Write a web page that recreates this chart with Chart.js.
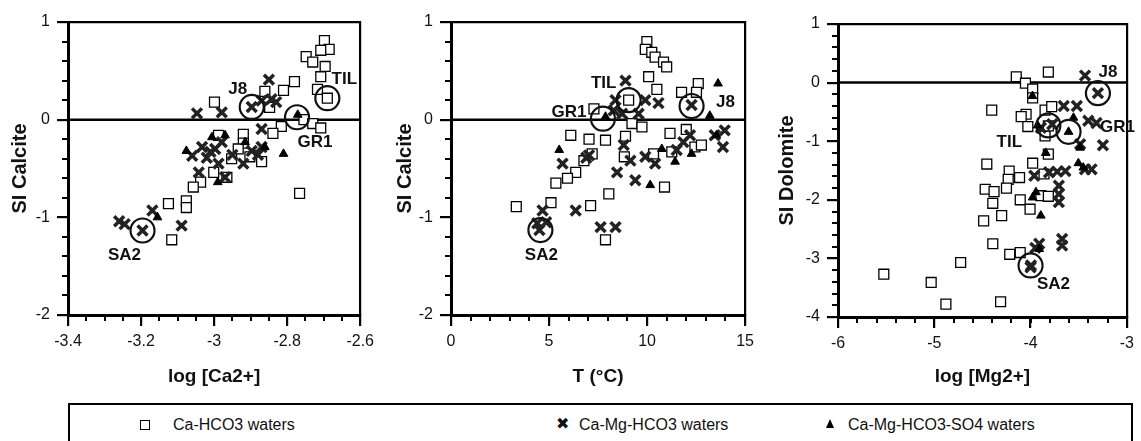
<!DOCTYPE html>
<html><head><meta charset="utf-8">
<script src="https://cdn.jsdelivr.net/npm/chart.js@4.4.0/dist/chart.umd.min.js"></script>
<style>
html,body{margin:0;padding:0;background:#fff;width:1141px;height:441px;overflow:hidden;font-family:"Liberation Sans",Arial,sans-serif;color:#111;}
canvas{position:absolute;top:0;}
#legendBox{position:absolute;left:68px;top:403px;width:1061px;height:60px;border:2px solid #000;}
.lt{position:absolute;top:414px;font-size:16px;line-height:22px;white-space:nowrap;}
.sq{position:absolute;top:420px;width:8px;height:8px;border:1.5px solid #000;background:#fff;}
.xm{position:absolute;top:413px;font-family:"DejaVu Sans";font-size:16px;line-height:22px;}
.tri{position:absolute;top:419px;width:0;height:0;border-left:4.5px solid transparent;border-right:4.5px solid transparent;border-bottom:9px solid #000;}
</style></head>
<body>
<canvas id="c1" width="380" height="400" style="left:0px"></canvas>
<canvas id="c2" width="380" height="400" style="left:380px"></canvas>
<canvas id="c3" width="381" height="400" style="left:760px"></canvas>
<div id="legendBox"></div>
<div class="sq" style="left:140px"></div><div class="lt" style="left:173px">Ca-HCO3 waters</div>
<div class="xm" style="left:556px">✖</div><div class="lt" style="left:579px">Ca-Mg-HCO3 waters</div>
<div class="tri" style="left:826px"></div><div class="lt" style="left:848px">Ca-Mg-HCO3-SO4 waters</div>
<script>
// ---------- tick labels ----------
const p1XTicks = [-3.4, -3.2, -3.0, -2.8, -2.6];
const p1YTicks = [1, 0, -1, -2];
const p2XTicks = [0, 5, 10, 15];
const p2YTicks = [1, 0, -1, -2];
const p3XTicks = [-6, -5, -4, -3];
const p3YTicks = [1, 0, -1, -2, -3, -4];

// ---------- axis titles ----------
const p1XTitle = 'log [Ca2+]';
const p2XTitle = 'T (°C)';
const p3XTitle = 'log [Mg2+]';
const p1YTitle = 'SI Calcite';
const p2YTitle = 'SI Calcite';
const p3YTitle = 'SI Dolomite';

// ---------- series names ----------
const seriesNames = ['Ca-HCO3 waters', 'Ca-Mg-HCO3 waters', 'Ca-Mg-HCO3-SO4 waters'];
const siteNames = ['J8', 'TIL', 'GR1', 'SA2'];

// ---------- panel 1: log[Ca2+] vs SI calcite ----------
const p1Square = [[-2.698,0.81],[-2.685,0.72],[-2.708,0.71],[-2.748,0.645],[-2.73,0.59],[-2.696,0.545],[-2.708,0.44],[-2.717,0.31],[-2.69,0.22],[-2.78,0.39],[-2.81,0.30],[-2.861,0.29],[-2.848,0.126],[-2.999,0.18],[-2.816,-0.07],[-2.839,-0.14],[-2.754,0.0],[-2.73,-0.04],[-2.708,-0.085],[-2.766,-0.755],[-2.92,-0.15],[-2.92,-0.24],[-2.988,-0.16],[-2.934,-0.30],[-2.952,-0.40],[-2.902,-0.38],[-2.87,-0.43],[-3.001,-0.54],[-2.965,-0.59],[-3.037,-0.64],[-3.057,-0.69],[-3.125,-0.86],[-3.076,-0.83],[-3.076,-0.90],[-3.116,-1.23]];
const p1Cross = [[-3.047,0.065],[-2.979,0.075],[-2.85,0.41],[-2.897,0.13],[-2.87,0.195],[-2.843,0.21],[-2.83,0.18],[-2.87,-0.095],[-3.033,-0.28],[-3.06,-0.37],[-3.02,-0.39],[-3.042,-0.54],[-2.988,-0.45],[-2.979,-0.23],[-2.97,-0.59],[-2.92,-0.45],[-2.897,-0.32],[-2.87,-0.28],[-3.169,-0.93],[-3.089,-1.085],[-3.245,-1.07],[-3.196,-1.135],[-2.997,-0.30],[-3.01,-0.33],[-2.95,-0.36],[-2.88,-0.36],[-3.26,-1.04]];
const p1Triangle = [[-3.076,-0.32],[-2.99,-0.64],[-2.81,-0.35],[-2.97,-0.16],[-3.155,-1.0],[-2.861,-0.28],[-2.771,0.05],[-3.006,-0.18],[-2.915,-0.23]];
const p1Circled = [[-2.897,0.13],[-2.69,0.22],[-2.773,0.025],[-3.196,-1.135]];

// ---------- panel 2: T vs SI calcite ----------
const p2Square = [[9.99,0.80],[9.91,0.72],[10.24,0.69],[10.41,0.64],[10.84,0.59],[11.0,0.54],[10.08,0.44],[10.5,0.31],[9.06,0.20],[7.29,0.11],[11.76,0.28],[12.61,0.37],[12.52,0.28],[6.11,-0.16],[7.04,-0.20],[7.88,-0.21],[8.9,-0.17],[9.23,-0.04],[9.74,-0.075],[8.84,-0.38],[10.33,-0.35],[11.17,-0.14],[12.0,-0.10],[12.44,-0.28],[12.77,-0.26],[11.26,-0.33],[7.2,-0.35],[6.78,-0.42],[6.36,-0.54],[5.94,-0.60],[5.35,-0.65],[5.1,-0.85],[3.33,-0.89],[7.12,-0.88],[8.05,-0.76],[10.89,-0.69],[7.88,-1.23]];
const p2Cross = [[8.9,0.40],[8.39,0.20],[8.73,0.06],[9.57,0.06],[9.91,0.20],[10.58,0.17],[12.27,0.15],[8.81,-0.26],[9.15,-0.42],[8.47,-0.54],[9.91,-0.38],[10.41,-0.45],[9.4,-0.62],[6.36,-0.93],[7.63,-1.10],[8.39,-1.10],[4.67,-0.93],[4.51,-1.13],[4.85,-1.05],[5.69,-0.45],[7.04,-0.365],[11.51,-0.31],[11.85,-0.23],[12.19,-0.16],[13.96,-0.11],[13.87,-0.28],[13.45,-0.16],[8.3,0.095],[6.9,-0.39],[4.4,-1.06]];
const p2Triangle = [[13.62,0.37],[13.2,0.04],[5.52,-0.31],[10.75,-0.30],[11.43,-0.43],[10.16,-0.67],[12.27,-0.35],[7.88,0.03],[13.54,-0.16]];
const p2Circled = [[12.27,0.14],[9.06,0.20],[7.75,0.01],[4.56,-1.13]];

// ---------- panel 3: log[Mg2+] vs SI dolomite ----------
const p3Square = [[-4.148,0.10],[-4.053,-0.01],[-3.815,0.18],[-3.978,-0.11],[-3.978,-0.26],[-4.403,-0.47],[-4.046,-0.54],[-4.097,-0.58],[-4.028,-0.75],[-3.849,-0.47],[-3.78,-0.41],[-3.849,-0.91],[-3.815,-1.22],[-3.978,-1.375],[-4.454,-1.39],[-4.222,-1.51],[-4.232,-1.65],[-4.114,-1.62],[-3.86,-1.56],[-4.471,-1.82],[-4.379,-1.86],[-4.25,-1.80],[-4.392,-2.06],[-4.107,-2.0],[-4.005,-2.16],[-4.487,-2.36],[-4.3,-2.27],[-4.392,-2.75],[-4.216,-2.93],[-4.107,-2.90],[-4.726,-3.07],[-5.524,-3.27],[-5.032,-3.41],[-4.879,-3.78],[-4.311,-3.74],[-3.893,-1.93],[-3.815,-1.94],[-3.815,-0.74]];
const p3Cross = [[-3.434,0.12],[-3.3,-0.18],[-3.655,-0.40],[-3.519,-0.40],[-3.315,-0.69],[-3.248,-1.07],[-3.485,-1.05],[-3.893,-0.77],[-3.774,-0.71],[-3.366,-1.48],[-3.434,-1.48],[-3.638,-1.51],[-3.723,-1.52],[-3.808,-1.53],[-3.961,-1.59],[-3.706,-1.76],[-3.706,-1.90],[-3.706,-2.04],[-3.672,-2.67],[-3.672,-2.78],[-3.91,-2.75],[-3.95,-2.82],[-3.995,-3.12],[-4.0,-3.15],[-3.4,-0.65]];
const p3Triangle = [[-3.98,-0.23],[-3.554,-0.60],[-3.605,-0.84],[-3.485,-1.11],[-3.842,-1.20],[-3.503,-1.375],[-3.452,-1.45],[-3.944,-1.87],[-3.978,-1.96],[-3.893,-2.27],[-3.91,-2.84],[-3.927,-0.73]];
const p3Circled = [[-3.30,-0.18],[-3.815,-0.73],[-3.605,-0.84],[-4.0,-3.12]];

// ---------- helpers ----------
const FONT = '"Liberation Sans", Arial, sans-serif';
const toPts = arr => arr.map(p => ({x: p[0], y: p[1]}));

// short minor tick marks between the labelled ticks, placed through the chart's own scales
const minorTicks = {
  id: 'minorTicks',
  afterDraw(chart, args, opts) {
    const ctx = chart.ctx;
    ctx.save();
    ctx.strokeStyle = '#000';
    ctx.lineWidth = 2;
    ['x', 'y'].forEach(id => {
      const s = chart.scales[id];
      const step = id === 'x' ? opts.xs : opts.ys;
      const n = Math.round((s.max - s.min) / step);
      for (let i = 0; i <= n; i++) {
        const p = Math.round(s.getPixelForValue(s.min + i * step));
        ctx.beginPath();
        if (id === 'x') { ctx.moveTo(p, s.top); ctx.lineTo(p, s.top + opts.len); }
        else { ctx.moveTo(s.right, p); ctx.lineTo(s.right - opts.len, p); }
        ctx.stroke();
      }
    });
    ctx.restore();
  }
};

const siteLabels = {
  id: 'siteLabels',
  afterDatasetsDraw(chart, args, opts) {
    const ctx = chart.ctx, xs = chart.scales.x, ys = chart.scales.y;
    ctx.save();
    ctx.font = 'bold 17px ' + FONT;
    ctx.fillStyle = '#111';
    ctx.textAlign = 'center';
    ctx.textBaseline = 'middle';
    opts.items.forEach(it => ctx.fillText(it.text, xs.getPixelForValue(it.x) + it.dx, ys.getPixelForValue(it.y) + it.dy));
    ctx.restore();
  }
};

function fmt(v) { return String(Math.round(v * 10) / 10); }

function makePanel(id, d) {
  const xmin = d.xTicks[0], xmax = d.xTicks[d.xTicks.length - 1];
  const ymin = d.yTicks[d.yTicks.length - 1], ymax = d.yTicks[0];
  const frameAxis = (pos, axis) => ({
    type: 'linear', position: pos, axis: axis, min: axis === 'x' ? xmin : ymin, max: axis === 'x' ? xmax : ymax,
    display: true,
    ticks: {display: false},
    grid: {display: false, drawTicks: false},
    border: {display: true, color: '#000', width: 2.2},
    afterFit: s => { if (axis === 'x') s.height = 0; else s.width = 0; }
  });
  new Chart(document.getElementById(id), {
    type: 'scatter',
    data: {
      datasets: [
        {label: 'circled', data: toPts(d.circled), pointStyle: 'circle', pointRadius: 12, borderColor: '#111', borderWidth: 2.2, backgroundColor: 'rgba(0,0,0,0)', order: 0},
        {label: seriesNames[2], data: toPts(d.tri), pointStyle: 'triangle', pointRadius: 5, borderColor: '#000', backgroundColor: '#000', borderWidth: 1, order: 1},
        {label: seriesNames[1], data: toPts(d.cross), pointStyle: 'crossRot', pointRadius: 7, borderColor: '#222', borderWidth: 3.5, order: 2},
        {label: seriesNames[0], data: toPts(d.sq), pointStyle: 'rect', pointRadius: 7, borderColor: '#000', backgroundColor: '#fff', borderWidth: 1.3, order: 3},
        {label: 'zero', type: 'line', data: [{x: xmin, y: 0}, {x: xmax, y: 0}], borderColor: '#000', borderWidth: 2.5, pointRadius: 0, showLine: true, order: 4}
      ]
    },
    options: {
      responsive: false,
      animation: false,
      events: [],
      layout: {padding: {left: 0, right: d.padRight, top: d.padTop, bottom: 0}},
      plugins: {
        legend: {display: false},
        tooltip: {enabled: false},
        minorTicks: {xs: d.xMinor, ys: d.yMinor, len: 6},
        siteLabels: {items: d.labels}
      },
      scales: {
        x: {
          type: 'linear', position: 'bottom', min: xmin, max: xmax,
          afterBuildTicks: s => { s.ticks = d.xTicks.map(v => ({value: v})); },
          afterFit: s => { s.height = d.xHeight; },
          ticks: {callback: v => fmt(v), color: '#111', font: {family: FONT, size: 16}, padding: 6, maxRotation: 0, autoSkip: false},
          grid: {display: true, drawOnChartArea: false, drawTicks: true, tickLength: 11, color: '#000', tickColor: '#000', lineWidth: 2.2, tickWidth: 2.2},
          border: {display: true, color: '#000', width: 3},
          title: {display: true, text: d.xTitle, color: '#111', font: {family: FONT, size: 19, weight: 'bold'}, padding: {top: 0, bottom: 12}}
        },
        y: {
          type: 'linear', position: 'left', min: ymin, max: ymax,
          afterBuildTicks: s => { s.ticks = d.yTicks.map(v => ({value: v})); },
          afterFit: s => { s.width = d.yWidth; },
          ticks: {callback: v => fmt(v), color: '#111', font: {family: FONT, size: 16}, padding: 7, autoSkip: false},
          grid: {display: true, drawOnChartArea: false, drawTicks: true, tickLength: 11, color: '#000', tickColor: '#000', lineWidth: 2.2, tickWidth: 2.2},
          border: {display: true, color: '#000', width: 3},
          title: {display: true, text: d.yTitle, color: '#111', font: {family: FONT, size: 20, weight: 'bold'}, padding: {top: d.yTitlePad, bottom: 0}}
        },
        xTop: frameAxis('top', 'x'),
        yRight: frameAxis('right', 'y')
      }
    },
    plugins: [minorTicks, siteLabels]
  });
}

const mkLabels = (pts, offs) => siteNames.map((n, i) => ({text: n, x: pts[i][0], y: pts[i][1], dx: offs[i][0], dy: offs[i][1]}));

makePanel('c1', {
  xTicks: p1XTicks, yTicks: p1YTicks, xTitle: p1XTitle, yTitle: p1YTitle,
  sq: p1Square, cross: p1Cross, tri: p1Triangle, circled: p1Circled,
  xMinor: 0.05, yMinor: 0.2, padRight: 17, padTop: 22, xHeight: 85, yWidth: 68, yTitlePad: 8,
  labels: mkLabels(p1Circled, [[-14, -18], [17, -19], [18, 25], [-18, 25]])
});
makePanel('c2', {
  xTicks: p2XTicks, yTicks: p2YTicks, xTitle: p2XTitle, yTitle: p2YTitle,
  sq: p2Square, cross: p2Cross, tri: p2Triangle, circled: p2Circled,
  xMinor: 1, yMinor: 0.2, padRight: 13, padTop: 22, xHeight: 85, yWidth: 71, yTitlePad: 13,
  labels: mkLabels(p2Circled, [[34, -4], [-25, -17], [-34, -6], [1, 25]])
});
makePanel('c3', {
  xTicks: p3XTicks, yTicks: p3YTicks, xTitle: p3XTitle, yTitle: p3YTitle,
  sq: p3Square, cross: p3Cross, tri: p3Triangle, circled: p3Circled,
  xMinor: 0.2, yMinor: 0.2, padRight: 8, padTop: 24, xHeight: 83, yWidth: 78, yTitlePad: 15,
  labels: mkLabels(p3Circled, [[10, -21], [-39, 17], [49, -5], [23, 19]])
});
</script>
</body></html>
